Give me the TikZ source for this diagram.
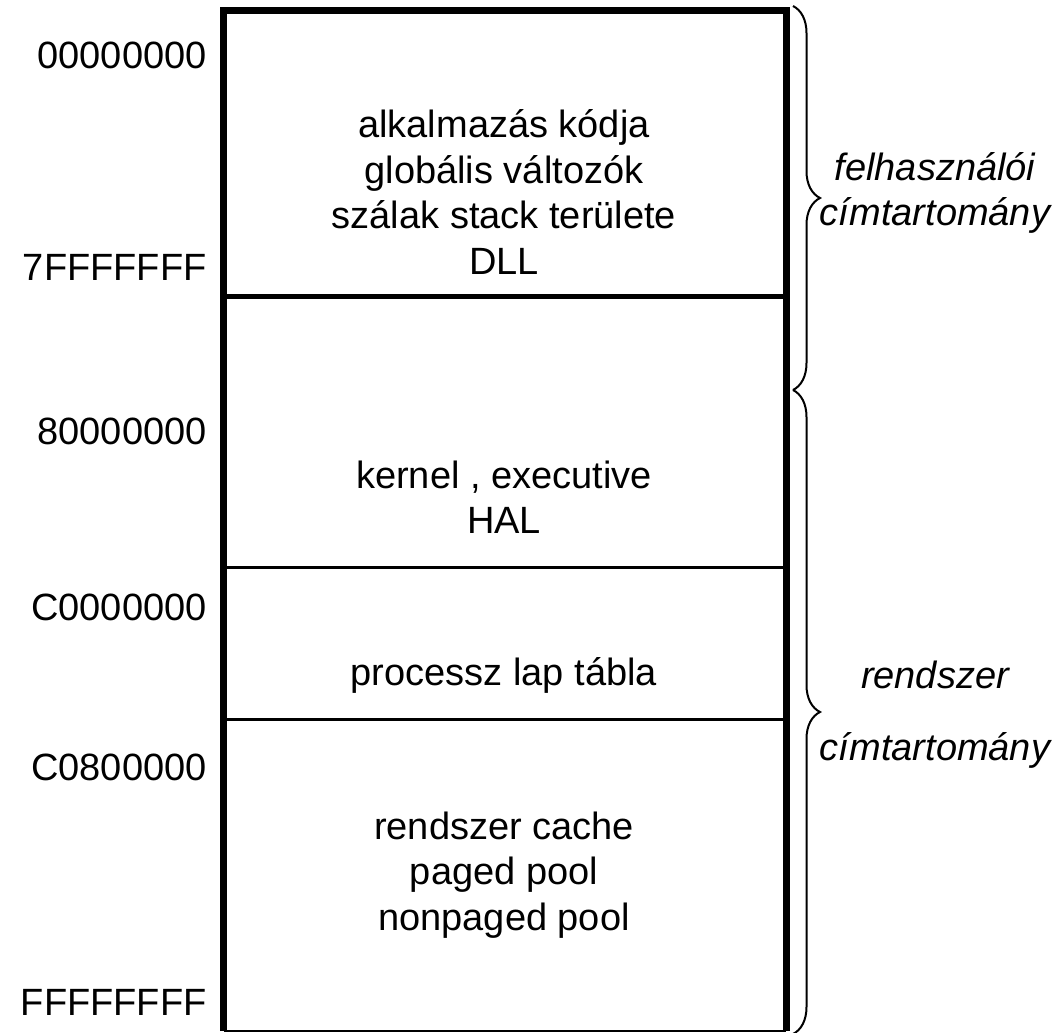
\documentclass[tikz,border=0pt]{standalone}
\usepackage{fontspec}
\setmainfont{Liberation Sans}
\usetikzlibrary{decorations.pathreplacing}

\begin{document}
\begin{tikzpicture}[x=0.5pt,y=-0.5pt]
	\tikzstyle{every node}+=[inner sep=0pt,font=\fontsize{19}{22.75}\selectfont]
	\tikzstyle{addr}=[anchor=east]
	\tikzstyle{region}=[align=center]
	\tikzstyle{space}=[align=center,font=\fontsize{19}{22.75}\selectfont\itshape]
	\tikzstyle{curly}=[decorate,decoration={brace,amplitude=13.5pt},line width=1pt]
	\useasboundingbox (0,0) rectangle (1062,1033);
	% corners of the address space
	\coordinate (tl) at (223.5,10);
	\coordinate (tr) at (786,10);
	\coordinate (bl) at (223.5,1031);
	\coordinate (br) at (786,1031);
	\draw [black,line width=3.5pt] (bl) -- (tl) -- (tr) -- (br);
	\draw [black,line width=1pt] (bl) -- (br);
	% borders between the regions
	\draw [black,line width=2.5pt] (223.5,296) -- (786,296);
	\draw [black,line width=1.5pt] (223.5,567) -- (786,567);
	\draw [black,line width=1.5pt] (223.5,719) -- (786,719);
	% contents
	\node [region] (user) at (504,192) {alkalmazás kódja\\globális változók\\szálak stack területe\\DLL};
	\node [region] (kernel) at (504,497) {kernel , executive\\HAL};
	\node [region] (pagetab) at (504,675) {processz lap tábla};
	\node [region] (pools) at (504,875) {rendszer cache\\paged pool\\nonpaged pool};
	% addresses
	\node [addr] (a0) at (207,55) {00000000};
	\node [addr] (a1) at (207,267) {7FFFFFFF};
	\node [addr] (a2) at (207,431) {80000000};
	\node [addr] (a3) at (207,607) {C0000000};
	\node [addr] (a4) at (207,767) {C0800000};
	\node [addr] (a5) at (207,1002) {FFFFFFFF};
	% braces
	\coordinate (u1) at (793,6);
	\coordinate (mid) at (793,390);
	\coordinate (s2) at (793,1034);
	\draw [curly] (u1) -- (mid);
	\draw [curly] (mid) -- (s2);
	\node [space] (felh) at (935,193) {felhasználói\\címtartomány};
	\node [space] (rendsz) at (935,675) {rendszer};
	\node [space] (rendsz2) at (935,750) {címtartomány};
\end{tikzpicture}
\end{document}
